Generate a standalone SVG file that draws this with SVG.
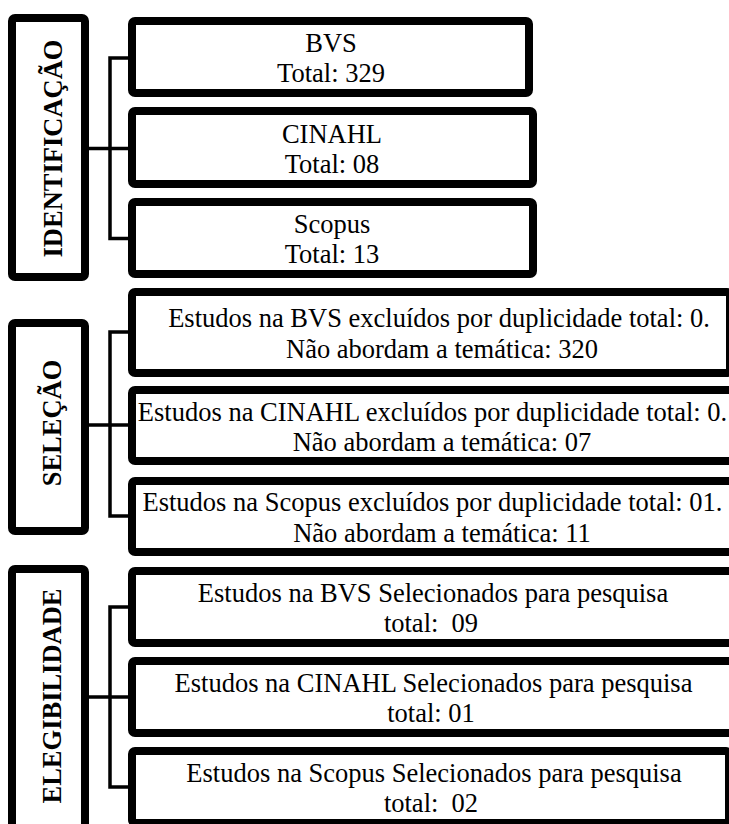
<svg xmlns="http://www.w3.org/2000/svg" width="729" height="824" viewBox="0 0 729 824">
<style>
.box{fill:#fff;stroke:#000;stroke-width:8}
.lab{fill:#fff;stroke:#000;stroke-width:8}
.t{font-family:"Liberation Serif","Times New Roman",serif;font-size:26.5px;fill:#000;text-anchor:middle;white-space:pre}
.h{font-family:"Liberation Serif","Times New Roman",serif;font-size:26.5px;font-weight:bold;fill:#000;text-anchor:middle}
.c{fill:none;stroke:#000;stroke-width:3.5}
</style>
<rect width="729" height="824" fill="#fff"/>
<g id="connectors">
<path class="c" d="M89,148.5 H128 M128,58 H110 V238.5 H128"/>
<path class="c" d="M89,425 H128 M128,332 H110 V516 H128"/>
<path class="c" d="M89,697 H128 M128,607 H110 V787 H128"/>
</g>
<g id="identificacao">
<rect class="lab" x="12" y="18" width="73" height="259" rx="3"/>
<text class="h" transform="translate(62,148.5) rotate(-90)">IDENTIFICAÇÃO</text>
</g>
<g id="ident-bvs">
<rect class="box" x="132" y="21" width="397" height="72" rx="3"/>
<text class="t" x="331" y="52">BVS</text>
<text class="t" x="331" y="82">Total: 329</text>
</g>
<g id="ident-cinahl">
<rect class="box" x="132" y="111" width="401" height="73" rx="3"/>
<text class="t" x="332" y="143">CINAHL</text>
<text class="t" x="332" y="173">Total: 08</text>
</g>
<g id="ident-scopus">
<rect class="box" x="132" y="202" width="401" height="72" rx="3"/>
<text class="t" x="332" y="233">Scopus</text>
<text class="t" x="332" y="263">Total: 13</text>
</g>
<g id="selecao">
<rect class="lab" x="12" y="323" width="73" height="208" rx="3"/>
<text class="h" transform="translate(61,423) rotate(-90)">SELEÇÃO</text>
</g>
<g id="sel-bvs">
<rect class="box" x="132" y="292" width="598" height="81" rx="3"/>
<text class="t" x="439" y="327">Estudos na BVS excluídos por duplicidade total: 0.</text>
<text class="t" x="442" y="358">Não abordam a temática: 320</text>
</g>
<g id="sel-cinahl">
<rect class="box" x="132" y="390" width="700" height="71" rx="3"/>
<text class="t" x="432.5" y="420.5">Estudos na CINAHL excluídos por duplicidade total: 0.</text>
<text class="t" x="442" y="451">Não abordam a temática: 07</text>
</g>
<g id="sel-scopus">
<rect class="box" x="132" y="481" width="700" height="71" rx="3"/>
<text class="t" x="432.5" y="511">Estudos na Scopus excluídos por duplicidade total: 01.</text>
<text class="t" x="442" y="542">Não abordam a temática: 11</text>
</g>
<g id="elegibilidade">
<rect class="lab" x="12" y="569" width="73" height="270" rx="3"/>
<text class="h" transform="translate(61,696) rotate(-90)">ELEGIBILIDADE</text>
</g>
<g id="eleg-bvs">
<rect class="box" x="132" y="571" width="700" height="72" rx="3"/>
<text class="t" x="433" y="602">Estudos na BVS Selecionados para pesquisa</text>
<text class="t" x="431" y="632">total:  09</text>
</g>
<g id="eleg-cinahl">
<rect class="box" x="132" y="661" width="700" height="72" rx="3"/>
<text class="t" x="433.5" y="692">Estudos na CINAHL Selecionados para pesquisa</text>
<text class="t" x="431" y="722">total: 01</text>
</g>
<g id="eleg-scopus">
<rect class="box" x="132" y="751" width="597" height="72" rx="3"/>
<text class="t" x="434" y="782">Estudos na Scopus Selecionados para pesquisa</text>
<text class="t" x="431" y="812">total:  02</text>
</g>
</svg>
